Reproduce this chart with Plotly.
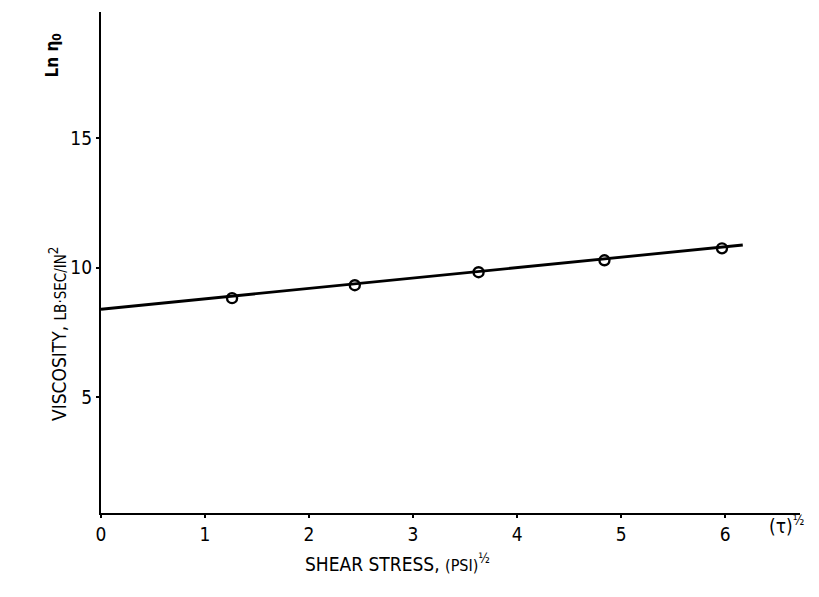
import plotly.graph_objects as go

# data
x_points = [1.26, 2.44, 3.63, 4.84, 5.97]
y_points = [8.83, 9.33, 9.83, 10.29, 10.75]
x_fit = [0.0, 6.17]
y_fit = [8.40, 10.88]
x_ticks = [0, 1, 2, 3, 4, 5, 6]
y_ticks = [5, 10, 15]

FONT = "DejaVu Sans Condensed, Liberation Sans Narrow, Arial Narrow, sans-serif"

fig = go.Figure()
fig.add_trace(go.Scatter(x=x_fit, y=y_fit, mode="lines",
                         line=dict(color="black", width=2.8), showlegend=False))
fig.add_trace(go.Scatter(x=x_points, y=y_points, mode="markers",
                         marker=dict(symbol="circle-open", size=10, color="black",
                                     line=dict(width=2.4, color="black")),
                         showlegend=False))

fig.update_layout(
    width=819, height=597,
    margin=dict(l=101, r=19, t=12, b=84),
    paper_bgcolor="white", plot_bgcolor="white",
    font=dict(family=FONT, color="black", size=19),
    xaxis=dict(range=[0, 6.72], tickvals=x_ticks, ticktext=[str(v) for v in x_ticks],
               showgrid=False, zeroline=False, showline=True, linecolor="black",
               linewidth=2.2, ticks="outside", ticklen=3, tickwidth=1.5, tickcolor="black",
               tickfont=dict(size=19, family=FONT)),
    yaxis=dict(range=[0.54, 19.87], tickvals=y_ticks, ticktext=[str(v) for v in y_ticks],
               showgrid=False, zeroline=False, showline=True, linecolor="black",
               linewidth=2.2, ticks="outside", ticklen=3, tickwidth=1.5, tickcolor="black",
               tickfont=dict(size=19, family=FONT)),
    annotations=[
        dict(xref="paper", yref="paper", x=(397 - 101) / 699, y=(513 - 577) / 501,
             text="SHEAR STRESS, <span style='font-size:16px'>(PSI)</span><sup>½</sup>",
             showarrow=False, font=dict(size=19, family=FONT)),
        dict(xref="paper", yref="paper", x=(44 - 101) / 699, y=(513 - 334) / 501,
             text="VISCOSITY, <span style='font-size:15px'>LB·SEC/IN</span><sup>2</sup>",
             textangle=-90, showarrow=False, font=dict(size=19, family=FONT)),
        dict(xref="paper", yref="paper", x=(40 - 101) / 699, y=(513 - 32) / 501,
             text="<b>Ln η<sub>0</sub></b>", textangle=-90, showarrow=False,
             font=dict(size=17, family=FONT)),
        dict(xref="paper", yref="paper", x=(806 - 101) / 699, y=(513 - 539) / 501,
             text="(τ)<sup>½</sup>", showarrow=False, font=dict(size=19, family=FONT)),
    ],
)

fig.write_html("out.html")
